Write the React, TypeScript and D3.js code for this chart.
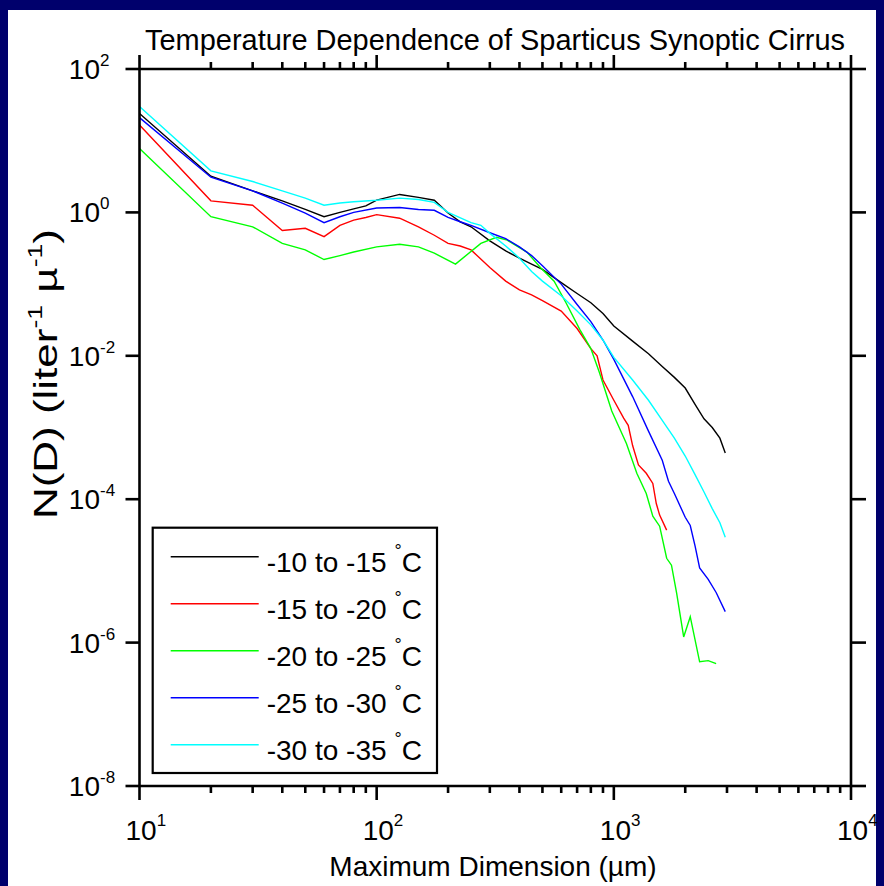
import React from 'react';
import * as d3 from 'd3';

// maximum dimension (µm) and N(D) (liter^-1 µ^-1)
const dBlack = [10, 20, 30, 40, 50, 60, 70, 80, 90, 100, 125, 150, 175, 200, 225, 250, 300, 350, 400, 450, 500, 600, 700, 800, 900, 1000, 1200, 1400, 1600, 1800, 2000, 2200, 2400, 2600, 2800, 2950];
const nBlack = [24, 3.2, 2.0, 1.45, 1.1, 0.87, 1.0, 1.12, 1.23, 1.48, 1.78, 1.62, 1.48, 0.98, 0.74, 0.63, 0.4, 0.29, 0.23, 0.19, 0.16, 0.105, 0.074, 0.055, 0.039, 0.026, 0.016, 0.0107, 0.0071, 0.005, 0.00355, 0.0021, 0.00132, 0.001, 0.00071, 0.00044];

const dRed = [10, 20, 30, 40, 50, 60, 70, 80, 90, 100, 125, 150, 175, 200, 225, 250, 300, 350, 400, 450, 500, 600, 700, 800, 850, 900, 1000, 1100, 1150, 1200, 1270, 1370, 1460, 1510, 1560, 1670];
const nRed = [16.6, 1.45, 1.26, 0.56, 0.6, 0.46, 0.66, 0.78, 0.85, 0.93, 0.83, 0.63, 0.48, 0.37, 0.34, 0.3, 0.17, 0.11, 0.083, 0.071, 0.059, 0.042, 0.024, 0.0126, 0.01, 0.0046, 0.0024, 0.00135, 0.00107, 0.00056, 0.0003, 0.00023, 0.000166, 0.000087, 0.00006, 0.000037];

const dGreen = [10, 20, 30, 40, 50, 60, 70, 80, 100, 125, 150, 175, 215, 275, 320, 355, 430, 490, 560, 630, 720, 800, 870, 980, 1130, 1250, 1370, 1460, 1560, 1670, 1750, 1840, 1970, 2100, 2300, 2500, 2700];
const nGreen = [7.8, 0.87, 0.63, 0.37, 0.3, 0.22, 0.25, 0.28, 0.33, 0.36, 0.33, 0.27, 0.19, 0.37, 0.45, 0.41, 0.28, 0.17, 0.11, 0.054, 0.023, 0.0126, 0.0058, 0.0017, 0.0006, 0.00023, 0.00012, 0.000058, 0.000042, 0.000015, 0.000012, 0.0000049, 0.0000012, 0.0000023, 5.4e-7, 5.6e-7, 5.1e-7];

const dBlue = [10, 20, 30, 40, 50, 60, 70, 80, 100, 125, 150, 175, 200, 225, 250, 300, 350, 400, 450, 500, 600, 700, 800, 900, 1000, 1200, 1400, 1600, 1700, 1800, 2000, 2100, 2200, 2300, 2500, 2700, 2950];
const nBlue = [21, 3.1, 2.0, 1.35, 0.98, 0.72, 0.87, 1.0, 1.15, 1.17, 1.1, 1.07, 0.85, 0.74, 0.66, 0.52, 0.43, 0.33, 0.25, 0.18, 0.1, 0.052, 0.03, 0.0166, 0.0089, 0.0027, 0.00089, 0.00035, 0.000178, 0.00012, 0.000056, 0.000043, 0.0000224, 0.000011, 0.0000076, 0.000005, 0.0000027];

const dCyan = [10, 20, 30, 40, 50, 60, 70, 80, 100, 125, 150, 175, 200, 250, 275, 300, 350, 400, 450, 500, 600, 700, 800, 900, 1000, 1200, 1400, 1600, 1800, 2000, 2200, 2400, 2600, 2800, 2950];
const nCyan = [30, 3.8, 2.7, 2.0, 1.58, 1.26, 1.35, 1.41, 1.48, 1.58, 1.51, 1.38, 1.0, 0.72, 0.66, 0.51, 0.34, 0.23, 0.15, 0.11, 0.069, 0.042, 0.027, 0.0166, 0.0095, 0.0046, 0.0024, 0.00126, 0.00071, 0.0004, 0.00022, 0.000126, 0.000074, 0.000047, 0.0000295];

const legendLabels = ['-10 to -15', '-15 to -20', '-20 to -25', '-25 to -30', '-30 to -35'];
const seriesColors = ['#000000', '#ff0000', '#00ff00', '#0000ff', '#00ffff'];

const xMajor = [10, 100, 1000, 10000];
const xExp = ['1', '2', '3', '4'];
const yMajor = [1e2, 1, 1e-2, 1e-4, 1e-6, 1e-8];
const yExp = ['2', '0', '-2', '-4', '-6', '-8'];

const W = 884;
const H = 886;
const FONT = '"Liberation Sans", Arial, Helvetica, sans-serif';

export default function App() {
  const x = d3.scaleLog().domain([10, 10000]).range([139.5, 851]);
  const y = d3.scaleLog().domain([1e-8, 1e2]).range([786, 69]);
  const [x0, x1] = x.range();
  const [y1, y0] = y.range();

  const series = [
    [dBlack, nBlack],
    [dRed, nRed],
    [dGreen, nGreen],
    [dBlue, nBlue],
    [dCyan, nCyan],
  ];

  const path = (ds: number[], ns: number[]) =>
    d3
      .line<number>()
      .x(i => x(ds[i]))
      .y(i => y(ns[i]))(d3.range(ds.length));

  const xTicks = x.ticks();
  const isMajor = (t: number) => Math.abs(Math.log10(t) - Math.round(Math.log10(t))) < 1e-9;

  const axisStroke = { stroke: '#000', strokeWidth: 2.6 };

  const legendX = 152.7;
  const legendY = 527.7;
  const rowY = (i: number) => 556.7 + i * 47;

  return (
    <svg width={W} height={H} style={{ position: 'absolute', left: 0, top: 0 }} fontFamily={FONT}>
      <rect width={W} height={H} fill="#00006c" />
      <rect x={8} y={10} width={868} height={H - 10} fill="#fff" />

      <text x={495} y={50} fontSize={29} textAnchor="middle" textLength={700} lengthAdjust="spacingAndGlyphs">
        Temperature Dependence of Sparticus Synoptic Cirrus
      </text>

      {series.map(([ds, ns], i) => (
        <path key={i} d={path(ds, ns) || ''} fill="none" stroke={seriesColors[i]} strokeWidth={1.4} />
      ))}

      {/* frame */}
      <line x1={x0} x2={x1} y1={y0} y2={y0} {...axisStroke} />
      <line x1={x0} x2={x1} y1={y1} y2={y1} {...axisStroke} />
      <line x1={x0} x2={x0} y1={y0} y2={y1} {...axisStroke} />
      <line x1={x1} x2={x1} y1={y0} y2={y1} {...axisStroke} />

      {/* x ticks, top and bottom, outward */}
      {xTicks.map(t => {
        const len = isMajor(t) ? 14 : 7;
        return (
          <g key={t}>
            <line x1={x(t)} x2={x(t)} y1={y0} y2={y0 - len} {...axisStroke} />
            <line x1={x(t)} x2={x(t)} y1={y1} y2={y1 + len} {...axisStroke} />
          </g>
        );
      })}

      {/* y ticks, left and right, outward */}
      {yMajor.map(t => (
        <g key={t}>
          <line x1={x0 - 14} x2={x0} y1={y(t)} y2={y(t)} {...axisStroke} />
          <line x1={x1} x2={x1 + 15} y1={y(t)} y2={y(t)} {...axisStroke} />
        </g>
      ))}

      {xMajor.map((t, i) => (
        <text key={t} x={x(t) - 14} y={840} fontSize={28}>
          10
          <tspan dy={-14} fontSize={17}>
            {xExp[i]}
          </tspan>
        </text>
      ))}

      {yMajor.map(t => (
        <text key={t} x={100} y={y(t) + 10} fontSize={28} textAnchor="end">
          10
        </text>
      ))}
      {yMajor.map((t, i) => (
        <text key={'e' + t} x={100} y={y(t) - 3} fontSize={17}>
          {yExp[i]}
        </text>
      ))}

      <text x={493} y={876} fontSize={28} textAnchor="middle">
        Maximum Dimension (µm)
      </text>

      <text
        transform="translate(57,374) rotate(-90)"
        fontSize={33}
        textAnchor="middle"
        textLength={290}
        lengthAdjust="spacingAndGlyphs"
      >
        N(D) (liter
        <tspan dy={-15} fontSize={20}>
          -1
        </tspan>
        <tspan dy={15}> µ</tspan>
        <tspan dy={-15} fontSize={20}>
          -1
        </tspan>
        <tspan dy={15}>)</tspan>
      </text>

      {/* legend */}
      <rect x={legendX} y={legendY} width={284.3} height={245.3} fill="#fff" stroke="#000" strokeWidth={2.2} />
      {legendLabels.map((lab, i) => (
        <g key={lab}>
          <line x1={170.7} x2={258.7} y1={rowY(i)} y2={rowY(i)} stroke={seriesColors[i]} strokeWidth={1.4} />
          <text x={266.7} y={rowY(i) + 15} fontSize={28}>
            {lab}
            <tspan dx={8} dy={-15} fontSize={18}>
              °
            </tspan>
            <tspan dy={15}>C</tspan>
          </text>
        </g>
      ))}
    </svg>
  );
}
